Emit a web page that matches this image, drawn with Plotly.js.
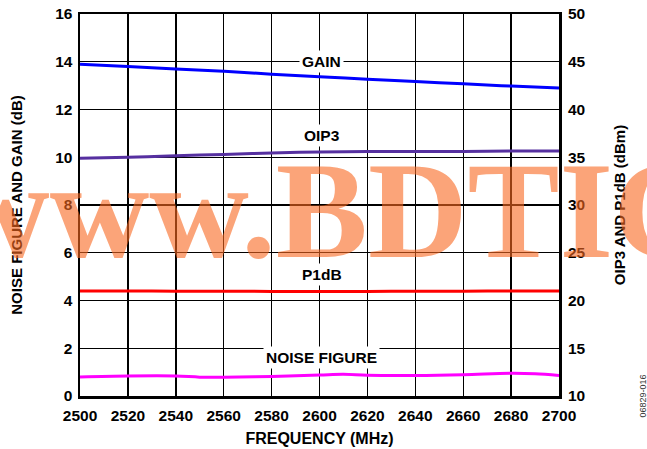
<!DOCTYPE html>
<html>
<head>
<meta charset="utf-8">
<script src="https://cdn.plot.ly/plotly-3.0.1.min.js"></script>
<style>
  html, body { margin: 0; padding: 0; background: #fff; }
  #chart { width: 647px; height: 449px; }
</style>
</head>
<body>
<div id="chart"></div>
<script>
// Frequency (MHz)
const freqGain = [2500, 2520, 2540, 2560, 2580, 2600, 2620, 2640, 2660, 2680, 2700];
const gainDb   = [13.9, 13.8, 13.7, 13.6, 13.48, 13.37, 13.27, 13.17, 13.08, 12.98, 12.9];

const freqOip3 = [2500, 2520, 2540, 2560, 2580, 2600, 2620, 2640, 2660, 2680, 2700];
const oip3Dbm  = [34.9, 35.0, 35.15, 35.3, 35.45, 35.55, 35.6, 35.6, 35.6, 35.65, 35.65];

const freqP1db = [2500, 2520, 2540, 2560, 2580, 2600, 2620, 2640, 2660, 2680, 2700];
const p1dbDbm  = [21.0, 21.0, 20.98, 20.97, 20.95, 20.95, 20.95, 20.97, 20.98, 21.0, 21.0];

const freqNf = [2500, 2520, 2540, 2550, 2560, 2580, 2600, 2610, 2620, 2640, 2660, 2680, 2690, 2700];
const nfDb   = [0.80, 0.84, 0.84, 0.79, 0.79, 0.82, 0.88, 0.91, 0.87, 0.86, 0.89, 0.95, 0.93, 0.86];

const xTicks = [2500, 2520, 2540, 2560, 2580, 2600, 2620, 2640, 2660, 2680, 2700];
const yLeftTicks = [0, 2, 4, 6, 8, 10, 12, 14, 16];
const yRightTicks = [10, 15, 20, 25, 30, 35, 40, 45, 50];

const curveLabels = ["GAIN", "OIP3", "P1dB", "NOISE FIGURE"];
const curveLabelY = [14.0, 10.9, 5.1, 1.6];

const FONT = "Liberation Sans, Arial, sans-serif";

const traces = [
  {x: freqGain, y: gainDb, mode: "lines", line: {color: "#0000ff", width: 3, shape: "spline"}, yaxis: "y", hoverinfo: "skip"},
  {x: freqOip3, y: oip3Dbm, mode: "lines", line: {color: "#5630a0", width: 3, shape: "spline"}, yaxis: "y2", hoverinfo: "skip"},
  {x: freqP1db, y: p1dbDbm, mode: "lines", line: {color: "#ff0000", width: 3, shape: "spline"}, yaxis: "y2", hoverinfo: "skip"},
  {x: freqNf, y: nfDb, mode: "lines", line: {color: "#ff00ff", width: 3, shape: "spline"}, yaxis: "y", hoverinfo: "skip"}
];

const annotations = curveLabels.map((t, i) => ({
  x: 2601, y: curveLabelY[i], xref: "x", yref: "y", text: "<b>" + t + "</b>",
  showarrow: false, bgcolor: "#ffffff", borderpad: 2,
  font: {family: FONT, size: 15.5, color: "#000"}
}));

annotations.push({
  x: 1.19, y: -0.063, xref: "paper", yref: "paper", text: "06829-016",
  showarrow: false, textangle: -90, font: {family: FONT, size: 9, color: "#333"}
});

annotations.push({
  x: -0.2756, y: 0.486, xref: "paper", yref: "paper", xanchor: "left", yanchor: "middle",
  text: "<b>www.BDTIC</b>", showarrow: false, opacity: 0.6,
  font: {family: "Liberation Serif, Times New Roman, serif", size: 138, color: "rgb(250,105,33)"}
});

const layout = {
  width: 647, height: 449,
  margin: {l: 80, r: 88, t: 14, b: 53, pad: 0},
  paper_bgcolor: "#fff", plot_bgcolor: "#fff",
  showlegend: false,
  font: {family: FONT, color: "#000"},
  xaxis: {
    range: [2500, 2700], tickvals: xTicks, ticktext: xTicks.map(v => "<b>" + v + "</b>"),
    showgrid: true, gridcolor: "#000", gridwidth: 1.4,
    showline: true, linecolor: "#000", linewidth: 2.5, mirror: true,
    ticks: "", ticklabelstandoff: 4, zeroline: false,
    tickfont: {family: FONT, size: 15.5, color: "#000"},
    title: {text: "<b>FREQUENCY (MHz)</b>", font: {family: FONT, size: 16, color: "#000"}, standoff: 10}
  },
  yaxis: {
    range: [0, 16], tickvals: yLeftTicks, ticktext: yLeftTicks.map(v => "<b>" + v + "</b>"),
    showgrid: true, gridcolor: "#000", gridwidth: 1.4,
    showline: true, linecolor: "#000", linewidth: 2.5, mirror: true,
    ticks: "", ticklabelstandoff: 2, zeroline: false,
    tickfont: {family: FONT, size: 15.5, color: "#000"},
    title: {text: "<b>NOISE FIGURE AND GAIN (dB)</b>", font: {family: FONT, size: 15, color: "#000"}, standoff: 29}
  },
  yaxis2: {
    range: [10, 50], tickvals: yRightTicks, ticktext: yRightTicks.map(v => "<b>" + v + "</b>"),
    overlaying: "y", side: "right", showgrid: false, zeroline: false,
    showline: false, ticks: "", ticklabelstandoff: 8,
    tickfont: {family: FONT, size: 15.5, color: "#000"},
    title: {text: "<b>OIP3 AND P1dB (dBm)</b>", font: {family: FONT, size: 15, color: "#000"}, standoff: 29}
  },
  annotations: annotations
};

Plotly.newPlot("chart", traces, layout, {staticPlot: true, displayModeBar: false});
</script>
</body>
</html>
